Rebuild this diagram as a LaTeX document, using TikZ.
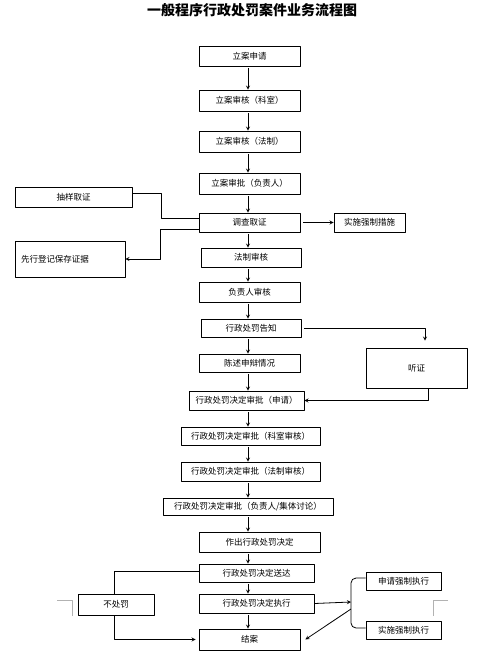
\documentclass[tikz,border=0pt]{standalone}
\usepackage{fontspec}
\setmainfont{Noto Sans CJK SC}
\begin{document}
\begin{tikzpicture}[x=1pt, y=-1pt, font=\fontsize{8.5}{10}\selectfont, line join=round, >=stealth]
	\tikzset{
	box/.style={draw, line width=.8pt, inner sep=0pt},
	link/.style={line width=.8pt},
	}
	\useasboundingbox (0,0) rectangle (492,654);
	\node[font=\fontsize{14}{16}\selectfont\bfseries] (t) at (252,10) {一般程序行政处罚案件业务流程图};
	\node[box, minimum width=101pt, minimum height=20pt] (a1) at (249.5,56) {立案申请};
	\node[box, minimum width=101pt, minimum height=21pt] (a2) at (249.5,100.5) {立案审核（科室）};
	\node[box, minimum width=101pt, minimum height=21pt] (a3) at (249.5,141.5) {立案审核（法制）};
	\node[box, minimum width=101pt, minimum height=21pt] (a4) at (249.5,183.5) {立案审批（负责人）};
	\node[box, minimum width=101pt, minimum height=19pt] (a5) at (249.5,222.5) {调查取证};
	\node[box, minimum width=117pt, minimum height=20pt] (s1) at (73.5,197) {抽样取证};
	\node[box, text width=98pt, inner xsep=6pt, minimum height=36pt, align=left] (s2) at (70,259) {先行登记保存证据};
	\node[box, minimum width=71pt, minimum height=19pt] (r1) at (369.5,222.5) {实施强制措施};
	\node[box, minimum width=100pt, minimum height=19pt] (a6) at (251,257.5) {法制审核};
	\node[box, minimum width=101pt, minimum height=20pt] (a7) at (249.5,292) {负责人审核};
	\node[box, minimum width=100pt, minimum height=18pt] (a8) at (251,328) {行政处罚告知};
	\node[box, minimum width=101pt, minimum height=18pt] (a9) at (249.5,363) {陈述申辩情况};
	\node[box, minimum width=101pt, minimum height=40pt] (h) at (416.5,368) {听证};
	\node[box, minimum width=115pt, minimum height=19pt] (b1) at (246.5,400.5) {行政处罚决定审批（申请）};
	\node[box, minimum width=139pt, minimum height=18pt] (b2) at (250.5,436) {行政处罚决定审批（科室审核）};
	\node[box, minimum width=139pt, minimum height=19pt] (b3) at (250.5,471.5) {行政处罚决定审批（法制审核）};
	\node[box, minimum width=170pt, minimum height=17pt] (b4) at (248,506.5) {行政处罚决定审批（负责人/集体讨论）};
	\node[box, minimum width=121pt, minimum height=20pt] (b5) at (259.5,542) {作出行政处罚决定};
	\node[box, minimum width=115pt, minimum height=18pt] (b6) at (256.5,573) {行政处罚决定送达};
	\node[box, minimum width=115pt, minimum height=19pt] (b7) at (256.5,603.5) {行政处罚决定执行};
	\node[box, minimum width=101pt, minimum height=21pt] (e) at (249.5,639.5) {结案};
	\node[box, minimum width=76pt, minimum height=21pt] (n) at (116,604.5) {不处罚};
	\node[box, minimum width=75pt, minimum height=18pt] (q1) at (403.5,581) {申请强制执行};
	\node[box, minimum width=75pt, minimum height=18pt] (q2) at (403.5,630) {实施强制执行};
	\coordinate (m) at (248,0);
	\coordinate (k) at (351,602);
	\foreach \a/\b in {a1/a2,a2/a3,a3/a4,a4/a5,a5/a6,a6/a7,a7/a8,a8/a9,a9/b1,b1/b2,b2/b3,b3/b4,b4/b5,b5/b6,b6/b7,b7/e}{
	\draw[link,->,shorten <=2pt] (\a.south -| m) -- (\b.north -| m);
	}
	\draw[link] ([yshift=4pt]s1.east) -- ++(29,0) |- ([yshift=4.5pt]a5.west);
	\draw[link,->] ([yshift=-6.5pt]a5.west) -- ++(-38,0) |- (s2.east);
	\draw[link,->] ([xshift=3pt]a5.east) -- (r1.west);
	\draw[link,->] ([xshift=3pt]a8.east) -| ([xshift=8.5pt,yshift=7pt]h.north);
	\draw[link,->] ([xshift=11.5pt]h.south) |- (b1.east);
	\draw[link] ([yshift=2pt]b6.west) -| ([xshift=-2pt]n.north);
	\draw[link,->,shorten >=3pt] ([xshift=-2pt]n.south) |- (e.west);
	\draw[link,->] (b7.east) -- (k);
	\draw[link,rounded corners=5pt] ([yshift=3pt]q1.west) -| (k) |- ([yshift=2pt]q2.west);
	\draw[link,->] ([yshift=-7pt]k) -- ([xshift=5pt]e.east);
	\draw[gray!60, line width=.8pt] (57,600) -- (72,600) -- (72,616);
	\draw[gray!60, line width=.8pt] (448,600) -- (433,600) -- (433,616);
\end{tikzpicture}
\end{document}
